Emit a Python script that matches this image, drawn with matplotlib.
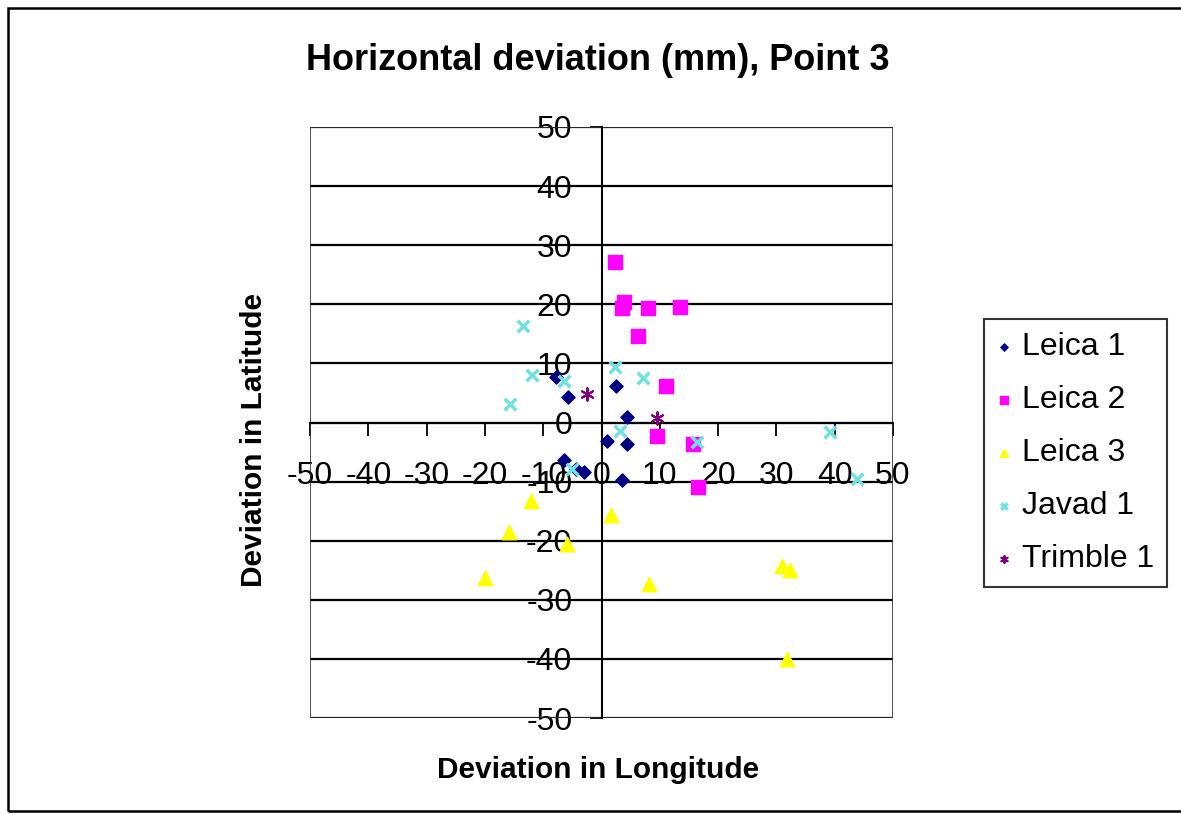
import numpy as np
import matplotlib
matplotlib.use("Agg")
import matplotlib.pyplot as plt
from matplotlib.patches import Rectangle

plt.rcParams['font.family'] = ['Liberation Sans', 'DejaVu Sans']
plt.rcParams['axes.unicode_minus'] = False

# deviations in mm: (longitude, latitude) per receiver
leica1_x = [-7.8, -5.7, 2.5, 4.3, 0.9, 4.3, -6.5, -4.3, -3.0, 3.5]
leica1_y = [7.7, 4.3, 6.2, 1.0, -3.1, -3.7, -6.4, -7.9, -8.3, -9.7]

leica2_x = [2.4, 3.6, 3.8, 8.0, 13.5, 6.2, 11.1, 9.6, 15.7, 16.6]
leica2_y = [27.1, 19.4, 20.4, 19.3, 19.6, 14.6, 6.2, -2.3, -3.6, -10.9]

leica3_x = [-12.1, -15.9, -5.9, 1.7, -19.9, 8.2, 31.0, 32.3, 31.8]
leica3_y = [-13.3, -18.5, -20.5, -15.7, -26.3, -27.3, -24.2, -25.0, -40.0]

javad1_x = [-13.4, -11.9, -6.5, -15.7, 2.3, 7.1, 3.2, 39.2, 16.3, 43.8, -5.1]
javad1_y = [16.4, 8.1, 7.0, 3.2, 9.4, 7.5, -1.5, -1.6, -3.3, -9.5, -7.8]

trimble1_x = [-2.5, 9.6]
trimble1_y = [4.9, 0.8]

ticks = np.arange(-50, 51, 10)

fig = plt.figure(figsize=(11.81, 8.14), dpi=100)
ax = fig.add_axes([310 / 1181, 1 - 718 / 814, 583 / 1181, 591 / 814])

ax.scatter(leica1_x, leica1_y, marker='D', s=45, color='#000080', label='Leica 1', zorder=3)
ax.scatter(leica2_x, leica2_y, marker='s', s=110, color='#FF00FF', label='Leica 2', zorder=3)
ax.scatter(leica3_x, leica3_y, marker='^', s=110, color='#FFFF00', label='Leica 3', zorder=3)
ax.scatter(javad1_x, javad1_y, marker='x', s=70, color='#70E0E0', linewidths=2.5,
           label='Javad 1', zorder=3)
ax.scatter(trimble1_x, trimble1_y, marker=(6, 2, 0), s=80, color='#800080', linewidths=1.5,
           label='Trimble 1', zorder=3)

ax.set_xlim(-50, 50)
ax.set_ylim(-50, 50)
ax.set_xticks(ticks)
ax.set_yticks(ticks)

# axes cross at the origin, like a spreadsheet chart
for side in ['top', 'right']:
    ax.spines[side].set_visible(False)
ax.spines['left'].set_position(('data', 0))
ax.spines['bottom'].set_position(('data', 0))
ax.spines['left'].set_linewidth(1.5)
ax.spines['bottom'].set_linewidth(1.5)
ax.add_patch(Rectangle((0, 0), 1, 1, transform=ax.transAxes, fill=False,
                       edgecolor='#303030', lw=1.2, zorder=1))

ax.yaxis.grid(True, color='black', lw=1.6, zorder=0)
ax.set_axisbelow(True)
ax.tick_params(axis='x', direction='out', length=9, width=1.3, pad=19, labelsize=23)
ax.tick_params(axis='y', direction='out', length=9, width=1.3, pad=12, labelsize=23)

fig.text(598 / 1181, 1 - 60 / 814, 'Horizontal deviation (mm), Point 3', ha='center', va='center',
         fontsize=26, fontweight='bold')
fig.text(598 / 1181, 1 - 770 / 814, 'Deviation in Longitude', ha='center', va='center',
         fontsize=21.5, fontweight='bold')
fig.text(254 / 1181, 1 - 440 / 814, 'Deviation in Latitude', ha='center', va='center',
         rotation=90, fontsize=21.5, fontweight='bold')

leg = ax.legend(loc='center right', bbox_to_anchor=(1167 / 1181, 1 - 453 / 814),
                bbox_transform=fig.transFigure, fontsize=23, frameon=True, fancybox=False,
                edgecolor='black', handlelength=0.5, handletextpad=0.3, labelspacing=0.72,
                borderpad=0.4, markerscale=0.55, borderaxespad=0)
leg.get_frame().set_linewidth(1.5)

# outer chart border
fig.patches.append(Rectangle((8 / 1181, 3 / 814), 1, 803 / 814, transform=fig.transFigure,
                             fill=False, edgecolor='black', lw=1.8))

fig.savefig('out.png', dpi=100)
